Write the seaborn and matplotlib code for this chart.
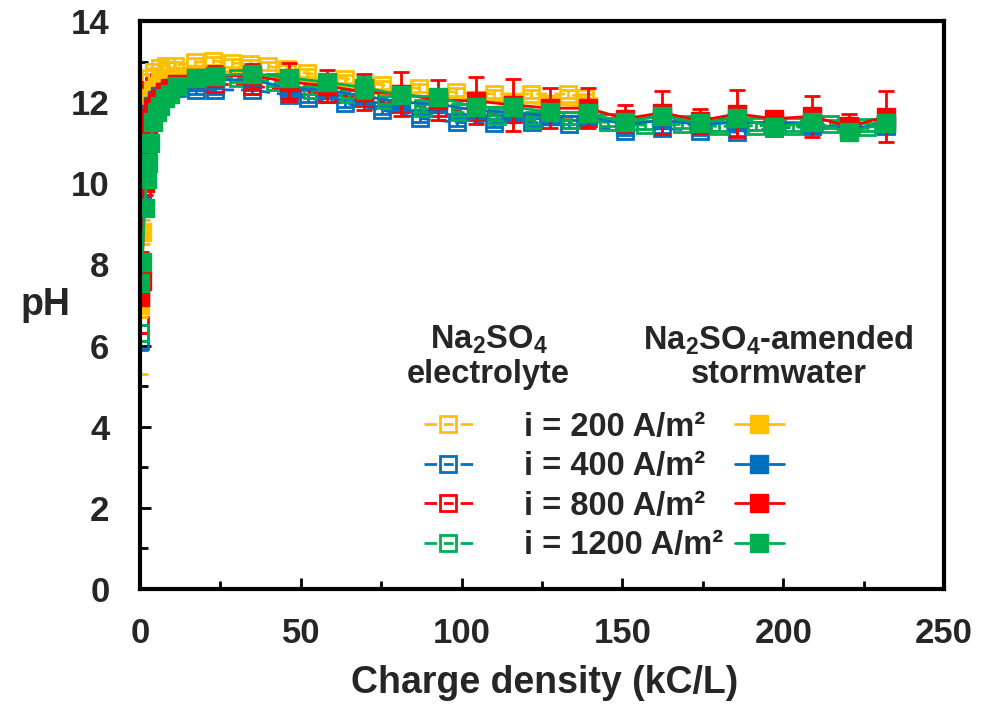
import matplotlib
matplotlib.use("Agg")
import matplotlib.pyplot as plt
from matplotlib.lines import Line2D
from matplotlib.ticker import MultipleLocator
import seaborn as sns

# stormwater runs (filled squares, solid lines)
x_storm = [0, 0.6, 1.5, 2.1, 2.6, 3.2, 4.2, 5.2, 6.2, 7.7, 9.3, 11.6, 17.4, 23.2, 34.8, 46.4,
           58.0, 69.6, 81.2, 92.8, 104.4, 116.0, 127.6, 139.2, 150.8, 162.4, 174.0, 185.6,
           197.2, 208.8, 220.4, 232.0]
x_storm_200 = [0, 0.6, 1.5, 2.1, 2.6, 3.2, 4.2, 5.2, 6.2, 7.7, 9.3, 11.6, 17.4, 23.2, 34.8, 46.4,
               58.0, 69.6, 81.2, 92.8, 104.4, 116.0, 127.6, 139.2]
ph_storm_200 = [7.0, 8.8, 10.8, 11.5, 11.9, 12.1, 12.3, 12.4, 12.5, 12.55, 12.6, 12.65, 12.7, 12.7,
                12.65, 12.55, 12.45, 12.3, 12.2, 12.1, 12.05, 12.0, 11.95, 11.9]
err_storm_200 = [0.3, 0.3, 0.2, 0.2, 0.15, 0.1, 0.1, 0.1, 0.1, 0.1, 0.1, 0.1, 0.1, 0.1, 0.1, 0.1,
                 0.1, 0.1, 0.1, 0.1, 0.1, 0.1, 0.1, 0.1]
ph_storm_400 = [7.4, 9.5, 10.4, 11.0, 11.4, 11.7, 11.9, 12.05, 12.15, 12.25, 12.3, 12.4, 12.5, 12.55,
                12.55, 12.35, 12.3, 12.15, 12.0, 11.95, 11.8, 11.75, 11.65, 11.65, 11.45, 11.55,
                11.45, 11.5, 11.5, 11.45, 11.35, 11.45]
err_storm_400 = [0.2, 0.2, 0.2, 0.15, 0.15, 0.1, 0.1, 0.1, 0.1, 0.1, 0.1, 0.1, 0.1, 0.1, 0.15, 0.15,
                 0.15, 0.15, 0.15, 0.15, 0.15, 0.15, 0.15, 0.15, 0.15, 0.15, 0.15, 0.15, 0.15, 0.15,
                 0.15, 0.15]
ph_storm_800 = [7.2, 7.6, 10.0, 10.8, 11.3, 11.6, 11.85, 12.0, 12.1, 12.25, 12.35, 12.45, 12.6, 12.65,
                12.65, 12.5, 12.4, 12.25, 12.2, 12.05, 12.03, 11.93, 11.85, 11.85, 11.59, 11.74,
                11.54, 11.71, 11.59, 11.65, 11.4, 11.64]
err_storm_800 = [0.2, 0.2, 0.3, 0.3, 0.25, 0.2, 0.2, 0.2, 0.15, 0.15, 0.15, 0.15, 0.2, 0.25, 0.3, 0.47,
                 0.4, 0.45, 0.55, 0.5, 0.58, 0.65, 0.5, 0.5, 0.33, 0.53, 0.3, 0.58, 0.2, 0.5, 0.3, 0.63]
ph_storm_1200 = [7.55, 8.05, 9.4, 10.1, 10.5, 11.0, 11.5, 11.75, 11.9, 12.1, 12.2, 12.4, 12.6, 12.65,
                 12.7, 12.6, 12.49, 12.36, 12.17, 12.12, 11.87, 11.88, 11.75, 11.73, 11.5, 11.67,
                 11.48, 11.62, 11.38, 11.5, 11.26, 11.48]
err_storm_1200 = [0.1, 0.1, 0.15, 0.15, 0.15, 0.1, 0.1, 0.1, 0.1, 0.1, 0.1, 0.1, 0.1, 0.15, 0.2, 0.15,
                  0.15, 0.25, 0.15, 0.1, 0.1, 0.1, 0.1, 0.1, 0.1, 0.1, 0.1, 0.1, 0.1, 0.1, 0.1, 0.1]

# Na2SO4 electrolyte runs (open squares, dashed lines)
x_elec_200 = [0, 0.3, 0.6, 1.0, 1.5, 2.0, 3.1, 4.5, 6.2, 8.0, 10.9, 17.1, 22.7, 28.6, 34.2, 39.9,
              45.8, 52.0, 63.6, 75.2, 86.8, 98.4, 110.0, 121.6, 133.2, 138.5]
ph_elec_200 = [6.3, 8.8, 10.6, 11.5, 12.0, 12.3, 12.6, 12.75, 12.85, 12.9, 12.9, 12.98, 13.02, 12.96,
               12.95, 12.88, 12.82, 12.71, 12.58, 12.42, 12.34, 12.24, 12.2, 12.2, 12.2, 12.1]
err_elec_200 = [1.0, 0.3, 0.2, 0.15, 0.1, 0.1, 0.1, 0.1, 0.1, 0.1, 0.1, 0.1, 0.1, 0.1, 0.1, 0.1,
                0.1, 0.1, 0.1, 0.1, 0.1, 0.1, 0.1, 0.1, 0.1, 0.1]
x_elec_400 = [0, 0.3, 0.7, 1.1, 1.6, 2.2, 2.9, 3.8, 5.2, 7.0, 9.3, 11.6, 17.4, 23.2, 34.8, 46.4,
              52.2, 63.8, 75.4, 87.0, 98.6, 110.2, 121.8, 133.4, 150.8, 162.4, 174.0, 185.6,
              197.2, 208.8, 220.4, 232.0]
ph_elec_400 = [6.1, 9.5, 10.5, 11.2, 11.7, 12.0, 12.2, 12.3, 12.35, 12.4, 12.4, 12.35, 12.3, 12.3,
               12.3, 12.17, 12.1, 11.97, 11.8, 11.6, 11.5, 11.48, 11.5, 11.45, 11.3, 11.35, 11.3,
               11.26, 11.35, 11.4, 11.4, 11.4]
err_elec_400 = [0.2, 0.2, 0.15, 0.1, 0.1, 0.1, 0.1, 0.1, 0.1, 0.1, 0.1, 0.1, 0.1, 0.1, 0.1, 0.1,
                0.1, 0.1, 0.1, 0.1, 0.1, 0.1, 0.1, 0.1, 0.1, 0.1, 0.1, 0.1, 0.1, 0.1, 0.1, 0.1]
x_elec_800 = [0, 0.3, 0.6, 1.0, 1.4, 1.9, 2.5, 3.3, 4.5, 6.0, 8.0, 11.6, 17.4, 23.2, 34.8, 46.4,
              58.0, 69.6, 81.2, 92.8, 104.4, 116.0, 127.6, 139.2]
ph_elec_800 = [6.5, 8.0, 9.8, 10.8, 11.4, 11.8, 12.1, 12.3, 12.4, 12.5, 12.55, 12.55, 12.5, 12.45,
               12.4, 12.3, 12.2, 12.1, 11.95, 11.85, 11.75, 11.7, 11.65, 11.6]
err_elec_800 = [0.2, 0.3, 0.2, 0.15, 0.1, 0.1, 0.1, 0.1, 0.1, 0.1, 0.1, 0.1, 0.1, 0.1, 0.1, 0.1,
                0.1, 0.1, 0.1, 0.1, 0.1, 0.1, 0.1, 0.1]
x_elec_1200 = [0, 0.5, 1.0, 1.5, 2.0, 2.6, 3.3, 4.0, 5.0, 7.5, 11.0, 19.0, 30.5, 42.0, 53.5, 65.0,
               76.5, 88.0, 99.5, 111.0, 122.5, 134.0, 145.5, 157.0, 168.5, 180.0, 191.5, 203.0,
               214.5, 226.0]
ph_elec_1200 = [6.3, 8.0, 9.4, 10.1, 10.6, 11.2, 11.5, 11.8, 12.0, 12.3, 12.45, 12.6, 12.6, 12.5,
                12.3, 12.2, 12.05, 11.85, 11.75, 11.65, 11.55, 11.55, 11.5, 11.43, 11.45, 11.4,
                11.42, 11.4, 11.45, 11.38]
err_elec_1200 = [0.2, 0.2, 0.15, 0.1, 0.1, 0.1, 0.1, 0.1, 0.1, 0.1, 0.1, 0.1, 0.1, 0.1, 0.1, 0.1,
                 0.1, 0.1, 0.1, 0.1, 0.1, 0.1, 0.1, 0.1, 0.1, 0.1, 0.1, 0.1, 0.1, 0.1]

labels = ["i = 200 A/m²", "i = 400 A/m²", "i = 800 A/m²", "i = 1200 A/m²"]
colors = ["#FFC000", "#0070C0", "#FF0000", "#00B050"]

sns.set_style("ticks")
plt.rcParams['font.family'] = ['Liberation Sans', 'DejaVu Sans']
plt.rcParams['font.weight'] = 'bold'
plt.rcParams['mathtext.fontset'] = 'custom'
plt.rcParams['mathtext.rm'] = 'Liberation Sans:bold'
plt.rcParams['mathtext.bf'] = 'Liberation Sans:bold'
plt.rcParams['mathtext.default'] = 'bf'

fig = plt.figure(figsize=(9.81, 7.04), dpi=100)
ax = fig.add_axes([0.1427, 0.1634, 0.8196, 0.8068])

elec = [(x_elec_200, ph_elec_200, err_elec_200), (x_elec_400, ph_elec_400, err_elec_400),
        (x_elec_800, ph_elec_800, err_elec_800), (x_elec_1200, ph_elec_1200, err_elec_1200)]
storm = [(x_storm_200, ph_storm_200, err_storm_200), (x_storm, ph_storm_400, err_storm_400),
         (x_storm, ph_storm_800, err_storm_800), (x_storm, ph_storm_1200, err_storm_1200)]

dash = (0, (4, 2.5))
for (x, y, e), c in zip(elec, colors):
    ax.errorbar(x, y, yerr=e, fmt='none', ecolor=c, elinewidth=2, capsize=6, capthick=2)
    sns.lineplot(x=x, y=y, ax=ax, color=c, linewidth=2, linestyle=dash, marker='s',
                 markersize=11.5, markerfacecolor='none', markeredgecolor=c, markeredgewidth=2,
                 sort=False, estimator=None, errorbar=None)
for (x, y, e), c in zip(storm, colors):
    ax.errorbar(x, y, yerr=e, fmt='none', ecolor=c, elinewidth=2, capsize=6, capthick=2)
    sns.lineplot(x=x, y=y, ax=ax, color=c, linewidth=2, marker='s',
                 markersize=12.5, markerfacecolor=c, markeredgecolor=c, markeredgewidth=1,
                 sort=False, estimator=None, errorbar=None)

ax.set_xlim(0, 250)
ax.set_ylim(0, 14)
ax.xaxis.set_major_locator(MultipleLocator(50))
ax.xaxis.set_minor_locator(MultipleLocator(25))
ax.yaxis.set_major_locator(MultipleLocator(2))
ax.yaxis.set_minor_locator(MultipleLocator(1))
ax.tick_params(which='both', direction='in', width=2, color='black', labelsize=25)
ax.tick_params(which='major', length=8)
ax.tick_params(which='minor', length=6)
ax.tick_params(axis='y', pad=22)
ax.tick_params(axis='x', pad=20)
for s in ax.spines.values():
    s.set_linewidth(3)
    s.set_color('black')

ax.set_xlabel("Charge density (kC/L)", fontsize=27, fontweight='bold', va='center')
ax.xaxis.set_label_coords(0.5037, -0.1655)
ax.set_ylabel("pH", fontsize=27, fontweight='bold', rotation=0, ha='center', va='center')
ax.yaxis.set_label_coords(-0.118, 0.5)

# legend: open markers left of the labels, filled markers right of them
leg_dash = (0, (4.5, 2.5, 3.5, 2.5))
open_h = [Line2D([], [], color=c, lw=2, linestyle=leg_dash, marker='s', markersize=11.5,
                 markerfacecolor='none', markeredgecolor=c, markeredgewidth=2) for c in colors]
fill_h = [Line2D([], [], color=c, lw=2, marker='s', markersize=12.5,
                 markerfacecolor=c, markeredgecolor=c) for c in colors]
lkw = dict(frameon=False, borderpad=0, borderaxespad=0, labelspacing=0.26,
           prop={'size': 23.5, 'weight': 'bold'}, loc='upper left')
leg1 = ax.legend(open_h, labels, bbox_to_anchor=(0.3532, 0.312), handlelength=1.5,
                 handletextpad=1.58, **lkw)
ax.add_artist(leg1)
leg2 = ax.legend(fill_h, labels, bbox_to_anchor=(0.480, 0.312), handlelength=1.5,
                 handletextpad=0.3, markerfirst=False, **lkw)
for t in leg2.get_texts():
    t.set_alpha(0)

hkw = dict(transform=ax.transAxes, ha='center', va='center', fontsize=23.5, fontweight='bold')
ax.text(0.4336, 0.4384, r"Na$_2$SO$_4$", **hkw)
ax.text(0.4336, 0.3768, "electrolyte", **hkw)
ax.text(0.794, 0.4384, r"Na$_2$SO$_4$-amended", **hkw)
ax.text(0.794, 0.3768, "stormwater", **hkw)

fig.savefig("out.png", dpi=100)
